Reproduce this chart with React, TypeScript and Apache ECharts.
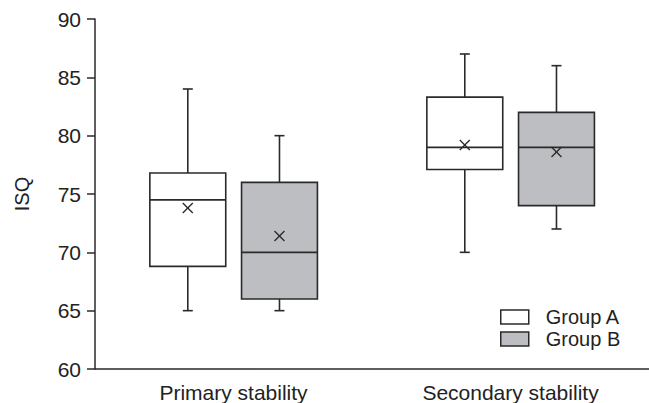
import React, { useEffect, useRef } from "react";
import * as echarts from "echarts";

const categories = ["Primary stability", "Secondary stability"];
// [min, q1, median, q3, max, mean]
const groupA = [
  [65, 68.8, 74.5, 76.8, 84, 73.8],
  [70, 77.1, 79, 83.3, 87, 79.2],
];
const groupB = [
  [65, 66, 70, 76, 80, 71.4],
  [72, 74, 79, 82, 86, 78.6],
];
const seriesNames = ["Group A", "Group B"];
const yTicks = [60, 65, 70, 75, 80, 85, 90];

const LINE = "#2a2a2a";
const TEXT = "#222222";
const FILLS = ["#ffffff", "#bdbec1"];
const OFFSETS = [-0.165, 0.166];
const BOXFRAC = 0.274;

function makeRender(idx: number) {
  return (params: any, api: any) => {
    const cat = api.value(0);
    const vals = [1, 2, 3, 4, 5, 6].map((i) => api.value(i));
    const bandW = api.size([1, 0])[0];
    const c = api.coord([cat, vals[2]]);
    const cx = c[0] + OFFSETS[idx] * bandW;
    const bw = BOXFRAC * bandW;
    const y = (v: number) => api.coord([cat, v])[1];
    const yMin = y(vals[0]);
    const yQ1 = y(vals[1]);
    const yMed = y(vals[2]);
    const yQ3 = y(vals[3]);
    const yMax = y(vals[4]);
    const yMean = y(vals[5]);
    const st = { stroke: LINE, lineWidth: 1.6 };
    const cap = 5;
    const m = 5;
    return {
      type: "group",
      children: [
        { type: "line", shape: { x1: cx, y1: yMax, x2: cx, y2: yQ3 }, style: st },
        { type: "line", shape: { x1: cx, y1: yQ1, x2: cx, y2: yMin }, style: st },
        { type: "line", shape: { x1: cx - cap, y1: yMax, x2: cx + cap, y2: yMax }, style: st },
        { type: "line", shape: { x1: cx - cap, y1: yMin, x2: cx + cap, y2: yMin }, style: st },
        {
          type: "rect",
          shape: { x: cx - bw / 2, y: yQ3, width: bw, height: yQ1 - yQ3 },
          style: { fill: FILLS[idx], stroke: LINE, lineWidth: 1.6 },
        },
        { type: "line", shape: { x1: cx - bw / 2, y1: yMed, x2: cx + bw / 2, y2: yMed }, style: st },
        { type: "line", shape: { x1: cx - m, y1: yMean - m, x2: cx + m, y2: yMean + m }, style: { stroke: LINE, lineWidth: 1.3 } },
        { type: "line", shape: { x1: cx - m, y1: yMean + m, x2: cx + m, y2: yMean - m }, style: { stroke: LINE, lineWidth: 1.3 } },
      ],
    };
  };
}

export default function App() {
  const ref = useRef<HTMLDivElement>(null);
  useEffect(() => {
    const chart = echarts.init(ref.current!, null, { renderer: "svg" });
    const font = "'Liberation Sans', Arial, sans-serif";
    const groups = [groupA, groupB];
    chart.setOption({
      animation: false,
      backgroundColor: "#ffffff",
      textStyle: { fontFamily: font },
      grid: { left: 95, right: 0, top: 19, bottom: 32, containLabel: false },
      legend: {
        orient: "vertical",
        left: 495,
        top: 302,
        itemWidth: 28,
        itemHeight: 14,
        itemGap: 2,
        icon: "rect",
        selectedMode: false,
        textStyle: { fontSize: 20, color: TEXT, fontFamily: font, padding: [0, 0, 0, 12] },
        data: seriesNames.map((n, i) => ({
          name: n,
          itemStyle: { color: FILLS[i], borderColor: LINE, borderWidth: 1.5 },
        })),
      },
      xAxis: {
        type: "category",
        data: categories,
        boundaryGap: true,
        axisLine: { lineStyle: { color: LINE, width: 1.5 } },
        axisTick: { length: 5, lineStyle: { color: LINE, width: 1.5 } },
        axisLabel: { fontSize: 21, color: TEXT, margin: 13, fontFamily: font },
      },
      yAxis: {
        type: "value",
        min: yTicks[0],
        max: yTicks[yTicks.length - 1],
        interval: 5,
        name: "ISQ",
        nameLocation: "middle",
        nameGap: 63,
        nameRotate: 90,
        nameTextStyle: { fontSize: 20, color: TEXT, fontFamily: font },
        splitLine: { show: false },
        axisLine: { show: true, lineStyle: { color: LINE, width: 1.5 } },
        axisTick: { show: true, length: 8, lineStyle: { color: LINE, width: 1.5 } },
        axisLabel: { fontSize: 21, color: TEXT, margin: 14, fontFamily: font },
      },
      series: seriesNames.map((n, i) => ({
        name: n,
        type: "custom",
        itemStyle: { color: FILLS[i], borderColor: LINE },
        renderItem: makeRender(i),
        encode: { x: 0, y: [1, 2, 3, 4, 5, 6] },
        data: groups[i].map((v, k) => [k, ...v]),
      })),
    });
    return () => chart.dispose();
  }, []);
  return <div ref={ref} style={{ width: 649, height: 403, position: "absolute", left: 0, top: 0 }} />;
}
